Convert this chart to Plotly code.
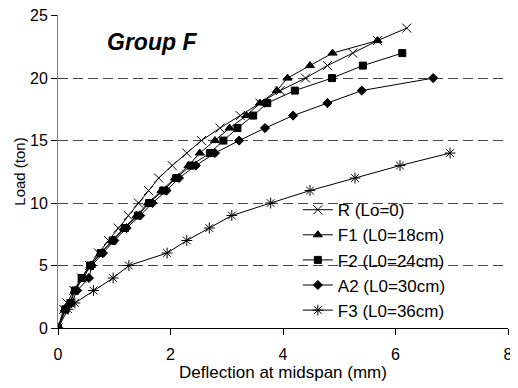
import plotly.graph_objects as go

# Data
r_load = [0, 1.5, 2, 3, 4, 5, 6, 7, 8, 9, 10, 11, 12, 13, 14, 15, 16, 17, 18, 19, 20, 21, 22, 23, 24]
r_defl = [0, 0.1, 0.16, 0.28, 0.42, 0.56, 0.72, 0.9, 1.07, 1.25, 1.43, 1.61, 1.79, 2.03, 2.29, 2.55, 2.88, 3.24, 3.59, 3.95, 4.40, 4.79, 5.24, 5.68, 6.2]

f1_load = [0, 1.5, 2, 3, 4, 5, 6, 7, 8, 9, 10, 11, 12, 13, 14, 15, 16, 17, 18, 19, 20, 21, 22, 23]
f1_defl = [0, 0.12, 0.2, 0.3, 0.45, 0.58, 0.76, 0.96, 1.17, 1.4, 1.6, 1.84, 2.08, 2.32, 2.52, 2.79, 3.05, 3.35, 3.59, 3.89, 4.08, 4.48, 4.88, 5.68]

f2_load = [0, 1.5, 2, 3, 4, 5, 6, 7, 8, 9, 10, 11, 12, 13, 14, 15, 16, 17, 18, 19, 20, 21, 22]
f2_defl = [0, 0.13, 0.22, 0.3, 0.42, 0.57, 0.76, 0.97, 1.19, 1.42, 1.62, 1.87, 2.1, 2.36, 2.70, 2.94, 3.19, 3.47, 3.72, 4.21, 4.87, 5.42, 6.12]

a2_load = [0, 1.5, 2, 3, 4, 5, 6, 7, 8, 9, 10, 11, 12, 13, 14, 15, 16, 17, 18, 19, 20]
a2_defl = [0, 0.14, 0.24, 0.34, 0.55, 0.6, 0.8, 1.0, 1.22, 1.46, 1.68, 1.93, 2.15, 2.45, 2.79, 3.22, 3.68, 4.18, 4.79, 5.40, 6.67]

f3_load = [0, 1.5, 2, 3, 4, 5, 6, 7, 8, 9, 10, 11, 12, 13, 14]
f3_defl = [0, 0.18, 0.30, 0.63, 0.98, 1.26, 1.94, 2.29, 2.69, 3.09, 3.78, 4.48, 5.28, 6.08, 6.97]

x_ticks = [0, 2, 4, 6, 8]
y_ticks = [0, 5, 10, 15, 20, 25]

series = [
    ("R (Lo=0)", r_defl, r_load, "x-thin-open", 9),
    ("F1 (L0=18cm)", f1_defl, f1_load, "triangle-up", 8),
    ("F2 (L0=24cm)", f2_defl, f2_load, "square", 7),
    ("A2 (L0=30cm)", a2_defl, a2_load, "diamond", 7),
    ("F3 (L0=36cm)", f3_defl, f3_load, "asterisk-open", 9),
]

fig = go.Figure()
for name, xs, ys, sym, sz in series:
    fig.add_trace(go.Scatter(
        x=xs, y=ys, name=name, mode="lines+markers",
        line=dict(color="black", width=1),
        marker=dict(symbol=sym, size=sz, color="black",
                    line=dict(color="black", width=1)),
    ))

font = "Liberation Sans"
fig.update_layout(
    width=510, height=380,
    margin=dict(l=50, r=10, t=7, b=60, autoexpand=False),
    paper_bgcolor="white", plot_bgcolor="white",
    font=dict(family=font, size=16, color="black"),
    showlegend=True,
    legend=dict(x=0.533, y=0.434, xanchor="left", yanchor="top",
                bgcolor="rgba(0,0,0,0)", font=dict(size=17),
                itemwidth=30, tracegroupgap=0),
    xaxis=dict(range=[0, 8], tickvals=x_ticks, showgrid=False,
               showline=True, linecolor="black", linewidth=1,
               ticks="outside", ticklen=6, tickcolor="black",
               zeroline=False, automargin=False,
               tickfont=dict(size=16), ticklabelstandoff=6,
               title=dict(text="Deflection at midspan (mm)", standoff=0,
                          font=dict(size=17))),
    yaxis=dict(range=[0, 25.05], tickvals=y_ticks, showgrid=True,
               gridcolor="#444444", griddash="10px,5px", gridwidth=1,
               showline=True, linecolor="gray", linewidth=1,
               ticks="outside", ticklen=6, tickcolor="black",
               zeroline=False, automargin=False,
               ticklabeloverflow="allow",
               tickfont=dict(size=16),
               title=dict(text="Load (ton)", standoff=0,
                          font=dict(size=15))),
    annotations=[dict(x=1.67, y=22.9, xref="x", yref="y",
                      text="<b><i>Group F</i></b>", showarrow=False,
                      font=dict(size=23, family=font))],
)

fig.write_html("out.html")
